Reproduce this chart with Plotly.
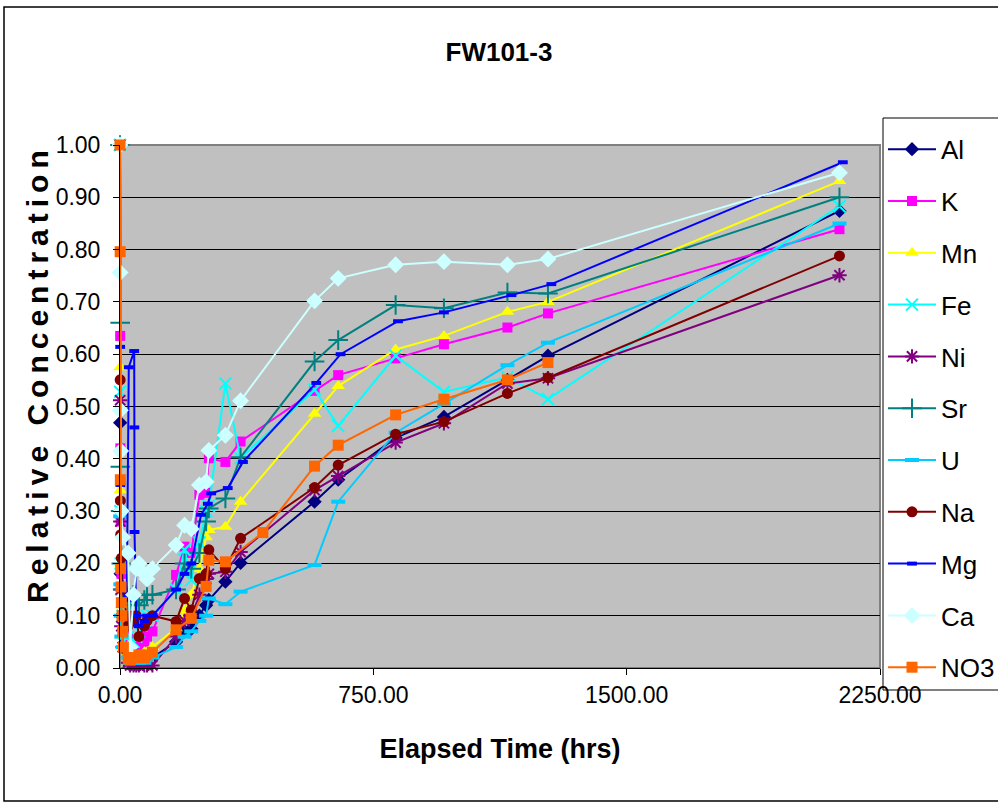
import plotly.graph_objects as go

# Sampling times (hrs) shared by most analytes
hours = [0, 0.5, 1, 2, 4, 8, 24, 30, 40, 48, 56, 72, 80, 96,
         166, 191, 211, 235, 255, 263, 312, 357,
         576, 646, 816, 959, 1147, 1267, 2130]

al = [1.00, 0.469, 0.30, 0.18, 0.10, 0.06, 0.03, 0.02, 0.015, 0.01, 0.01, 0.015, 0.02, 0.02,
      0.05, 0.07, 0.075, 0.10, 0.12, 0.13, 0.165, 0.201,
      0.318, 0.36, 0.44, 0.48, 0.551, 0.597, 0.874]
k = [1.00, 0.635, 0.42, 0.28, 0.18, 0.10, 0.06, 0.05, 0.04, 0.035, 0.04, 0.05, 0.06, 0.07,
     0.178, 0.232, 0.22, 0.331, 0.335, 0.401, 0.394, 0.433,
     0.53, 0.56, 0.592, 0.619, 0.651, 0.678, 0.839]
mn = [1.00, 0.575, 0.34, 0.20, 0.12, 0.06, 0.03, 0.02, 0.02, 0.02, 0.02, 0.03, 0.03, 0.04,
      0.076, 0.11, 0.14, 0.19, 0.25, 0.264, 0.27, 0.318,
      0.486, 0.539, 0.609, 0.635, 0.681, 0.70, 0.931]
fe = [1.00, 0.528, 0.30, 0.20, 0.15, 0.10, 0.06, 0.05, 0.05, 0.06, 0.07, 0.09, 0.10, 0.10,
      0.15, 0.226, 0.168, 0.24, 0.30, 0.31, 0.544, 0.401,
      0.532, 0.463, 0.597, 0.528, 0.556, 0.514, 0.883]
ni = [1.00, 0.512, 0.28, 0.15, 0.08, 0.04, 0.01, 0.005, 0.005, 0.005, 0.005, 0.005, 0.005, 0.005,
      0.06, 0.09, 0.10, 0.14, 0.17, 0.18, 0.184, 0.222,
      0.34, 0.367, 0.431, 0.468, 0.544, 0.554, 0.751]
sr = [1.00, 0.66, 0.385, 0.30, 0.20, 0.15, 0.12, 0.13, 0.14, 0.13, 0.12, 0.13, 0.14, 0.14,
      0.15, 0.20, 0.19, 0.22, 0.28, 0.305, 0.324, 0.403,
      0.586, 0.627, 0.694, 0.688, 0.718, 0.716, 0.900]
u = [1.00, 0.29, 0.16, 0.10, 0.06, 0.04, 0.02, 0.01, 0.01, 0.01, 0.01, 0.01, 0.015, 0.02,
     0.04, 0.06, 0.07, 0.09, 0.10, 0.133, 0.122, 0.146,
     0.197, 0.318, 0.45, 0.505, 0.579, 0.622, 0.850]
na = [1.00, 0.551, 0.32, 0.255, 0.21, 0.15, 0.08, 0.10, 0.09, 0.10, 0.06, 0.08, 0.09, 0.10,
      0.089, 0.133, 0.111, 0.171, 0.18, 0.226, 0.19, 0.248,
      0.345, 0.388, 0.447, 0.471, 0.525, 0.555, 0.788]
ca = [1.00, 0.756, 0.493, 0.415, 0.30, 0.25, 0.22, 0.04, 0.14, 0.19, 0.20, 0.18, 0.17, 0.19,
      0.235, 0.273, 0.266, 0.35, 0.356, 0.416, 0.445, 0.511,
      0.702, 0.745, 0.771, 0.777, 0.771, 0.782, 0.947]

# Mg and NO3 were sampled on their own schedules
mg_hours = [0, 0.5, 1, 4, 20, 26, 42, 42.5, 43, 48, 56, 72, 80, 96,
            166, 191, 211, 240, 260, 270, 319, 364,
            581, 653, 823, 959, 1159, 1277, 2140]
mg = [1.00, 0.614, 0.35, 0.15, 0.13, 0.575, 0.606, 0.46, 0.26, 0.10, 0.08, 0.09, 0.10, 0.10,
      0.15, 0.18, 0.20, 0.293, 0.314, 0.334, 0.344, 0.394,
      0.545, 0.60, 0.663, 0.68, 0.713, 0.734, 0.967]

no3_hours = [0, 0.5, 1, 2, 3, 4, 6, 8, 10, 24, 30, 40, 48, 56, 72, 80, 96,
             166, 211, 255, 263, 312, 423, 576, 646, 816, 959, 1147, 1267]
no3 = [1.00, 0.796, 0.36, 0.19, 0.155, 0.125, 0.10, 0.07, 0.04, 0.02, 0.015, 0.02, 0.02, 0.025, 0.02, 0.025, 0.03,
       0.073, 0.095, 0.156, 0.206, 0.203, 0.259, 0.386, 0.426, 0.484, 0.514, 0.551, 0.584]

FONT = "Liberation Sans, Arial, sans-serif"

# name, x, y, colour, marker symbol, marker size
series = [
    ("Al", hours, al, "#000080", "diamond", 11),
    ("K", hours, k, "#FF00FF", "square", 10),
    ("Mn", hours, mn, "#FFFF00", "triangle-up", 12),
    ("Fe", hours, fe, "#00FFFF", "x-thin-open", 12),
    ("Ni", hours, ni, "#800080", "asterisk-open", 12),
    ("Sr", hours, sr, "#008080", "cross-thin-open", 14),
    ("U", hours, u, "#00CCFF", "line-ew-open", 10),
    ("Na", hours, na, "#800000", "circle", 11),
    ("Mg", mg_hours, mg, "#0000FF", "line-ew-open", 7),
    ("Ca", hours, ca, "#CCFFFF", "diamond", 13),
    ("NO3", no3_hours, no3, "#FF6600", "square", 11),
]

fig = go.Figure()
for name, xs, ys, color, symbol, size in series:
    open_sym = symbol.endswith("-open")
    lw = 4 if symbol.startswith("line-ew") else (2 if open_sym else 0)
    fig.add_trace(go.Scatter(
        x=xs, y=ys, name=name, mode="lines+markers",
        legendgroup=name, cliponaxis=False,
        line=dict(color=color, width=2),
        marker=dict(symbol=symbol, size=size, color=color,
                    line=dict(color=color, width=lw)),
    ))

# Plot-area geometry in pixels
W, H = 998, 803
L, R, T, B = 120, 880, 145, 668
pw, ph = R - L, B - T


def px_x(p):
    return (p - L) / pw


def px_y(p):
    return (B - p) / ph


shapes = [
    # outer chart frame
    dict(type="rect", xref="paper", yref="paper",
         x0=px_x(4), x1=px_x(1010), y0=px_y(801), y1=px_y(7),
         line=dict(color="black", width=1.5), layer="below"),
    # legend panel (drawn beneath the axis labels)
    dict(type="rect", xref="paper", yref="paper",
         x0=px_x(883), x1=px_x(1010), y0=px_y(690), y1=px_y(118),
         fillcolor="white", line=dict(color="black", width=1), layer="below"),
    # plot-area frame
    dict(type="rect", xref="paper", yref="paper", x0=0, x1=1, y0=0, y1=1,
         line=dict(color="#808080", width=2), layer="below"),
]

fig.update_layout(
    width=W, height=H,
    margin=dict(l=L, r=W - R, t=T, b=H - B, autoexpand=False),
    paper_bgcolor="white",
    plot_bgcolor="#C0C0C0",
    font=dict(family=FONT, color="black", size=24),
    title=dict(text="<b>FW101-3</b>", x=0.5, xref="container", xanchor="center",
               y=1 - 52 / H, yref="container", yanchor="middle",
               font=dict(family=FONT, size=26)),
    showlegend=True,
    legend=dict(x=883 / W, y=1 - 118 / H, xref="container", yref="container",
                xanchor="left", yanchor="top", maxheight=700,
                bgcolor="rgba(0,0,0,0)", borderwidth=0,
                font=dict(family=FONT, size=26), tracegroupgap=15,
                itemwidth=48, itemsizing="trace",
                title=dict(text=" ", font=dict(size=6))),
    shapes=shapes,
    xaxis=dict(range=[0, 2250], tickvals=[0, 750, 1500, 2250], tickformat=".2f",
               showgrid=False, zeroline=False, showline=True, linecolor="black",
               linewidth=1, ticks="outside", ticklen=6, tickcolor="black",
               tickfont=dict(family=FONT, size=23),
               title=dict(text="<b>Elapsed Time (hrs)</b>", standoff=32,
                          font=dict(family=FONT, size=27))),
    yaxis=dict(range=[0, 1.0], dtick=0.1, tickformat=".2f",
               showgrid=True, gridcolor="black", gridwidth=1, zeroline=False,
               showline=True, linecolor="black", linewidth=1,
               ticks="outside", ticklen=6, tickcolor="black",
               ticklabelstandoff=8,
               tickfont=dict(family=FONT, size=23)),
    annotations=[dict(
        text='<b><span style="letter-spacing:6px">Relative Concentration</span></b>',
        xref="paper", yref="paper", x=px_x(37), y=px_y(374),
        xanchor="center", yanchor="middle", textangle=-90, showarrow=False,
        font=dict(family=FONT, size=30))],
)

fig.write_html("out.html")
